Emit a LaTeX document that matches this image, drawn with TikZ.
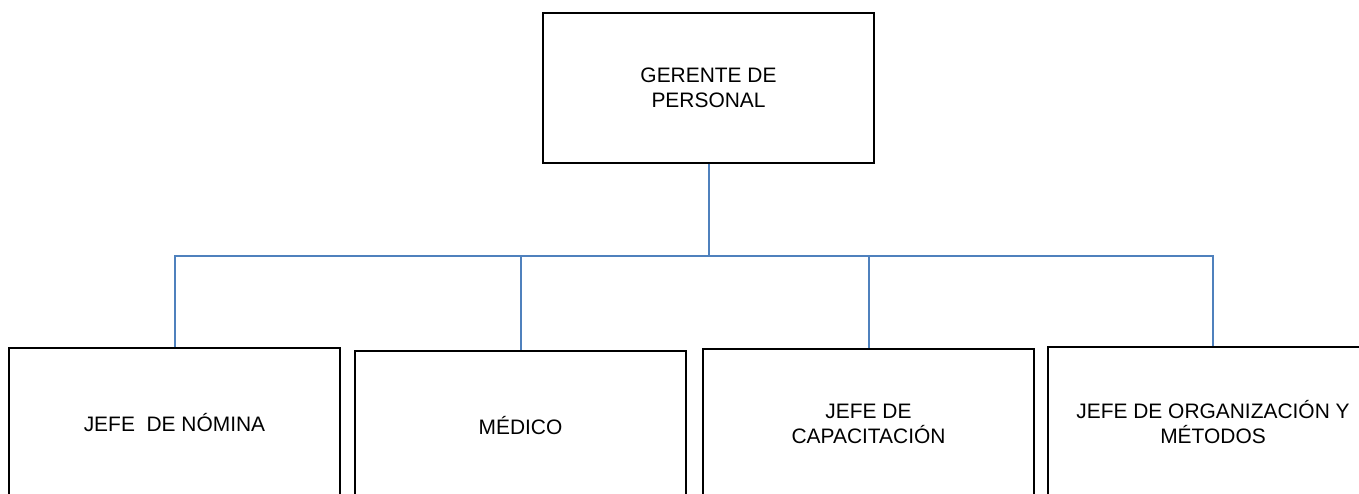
\documentclass[tikz,border=0pt]{standalone}
\usepackage{fontspec}
\setmainfont{Liberation Sans}
\begin{document}
\begin{tikzpicture}[x=0.75pt,y=-0.75pt,
  box/.style={draw=black,line width=1.3pt,minimum width=248pt,minimum height=112.5pt,
    inner sep=0pt,align=center,font=\fontsize{15.7}{18.5}\selectfont},
  conn/.style={draw={rgb,255:red,79;green,129;blue,189},line width=1.5pt}]
\useasboundingbox (0,0) rectangle (1359,493);
\fill[white] (0,0) rectangle (1359,493);
\clip (0,0) rectangle (1359,493);
\node[box] (top) at (708.5,88) {GERENTE DE\\PERSONAL};
\node[box] (b1) at (174.5,423) {JEFE\ \ DE NÓMINA};
\node[box] (b2) at (520.5,426) {MÉDICO};
\node[box] (b3) at (868.5,424) {JEFE DE\\CAPACITACIÓN};
\node[box] (b4) at (1213,422) {JEFE DE ORGANIZACIÓN Y\\MÉTODOS};
\coordinate (j) at (708.5,256);
\draw[conn] (top.south) -- (j);
\draw[conn] (b1.north) |- (j) -| (b4.north);
\draw[conn] (b2.north) -- (b2.north |- j);
\draw[conn] (b3.north) -- (b3.north |- j);
\end{tikzpicture}
\end{document}
